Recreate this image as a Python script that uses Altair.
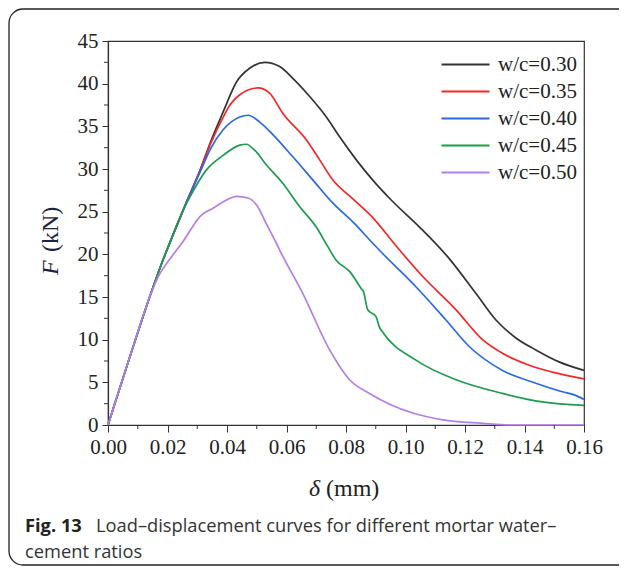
import altair as alt
import pandas as pd

series_names = ["w/c=0.30", "w/c=0.35", "w/c=0.40", "w/c=0.45", "w/c=0.50"]
series_colors = ["#333333", "#f02828", "#2a6ae0", "#1f9a4e", "#b47ee6"]

x_ticks = [0.0, 0.02, 0.04, 0.06, 0.08, 0.10, 0.12, 0.14, 0.16]
x_minor = [0.01, 0.03, 0.05, 0.07, 0.09, 0.11, 0.13, 0.15]
y_ticks = [0, 5, 10, 15, 20, 25, 30, 35, 40, 45]
y_minor = [2.5, 7.5, 12.5, 17.5, 22.5, 27.5, 32.5, 37.5, 42.5]

d30 = [0.0, 0.008, 0.014, 0.018, 0.022, 0.026, 0.031, 0.0345, 0.0386, 0.0432, 0.0476, 0.0527,
       0.0577, 0.0622, 0.0678, 0.0734, 0.0778, 0.0834, 0.089, 0.0951, 0.1047, 0.1147, 0.1237,
       0.1304, 0.1371, 0.1438, 0.1516, 0.16]
f30 = [0.0, 8.7, 15.0, 18.9, 22.4, 25.8, 29.9, 33.2, 36.6, 40.2, 41.8, 42.5,
       42.0, 40.6, 38.5, 36.1, 33.8, 31.1, 28.7, 26.4, 23.2, 19.5, 15.4,
       12.3, 10.2, 8.8, 7.4, 6.4]

d35 = [0.0, 0.008, 0.014, 0.018, 0.022, 0.026, 0.031, 0.0345, 0.0386, 0.041, 0.0443, 0.0504,
       0.0543, 0.0588, 0.0667, 0.0711, 0.0756, 0.0823, 0.089, 0.0968, 0.1058, 0.117, 0.1259,
       0.1326, 0.1416, 0.1505, 0.16]
f35 = [0.0, 8.7, 15.0, 18.9, 22.4, 25.8, 29.9, 33.0, 36.0, 37.5, 38.7, 39.5,
       38.9, 36.5, 33.4, 31.1, 28.7, 26.5, 24.3, 21.0, 17.4, 13.5, 10.0,
       8.4, 7.0, 6.1, 5.4]

d40 = [0.0, 0.008, 0.014, 0.018, 0.022, 0.026, 0.0309, 0.0345, 0.0387, 0.0443, 0.0471, 0.051,
       0.0555, 0.0622, 0.0689, 0.0756, 0.0823, 0.089, 0.0923, 0.1035, 0.1136, 0.1214, 0.1326,
       0.1438, 0.1527, 0.157, 0.16]
f40 = [0.0, 8.7, 15.0, 18.9, 22.4, 25.8, 29.6, 32.4, 34.6, 36.1, 36.3, 35.5,
       34.0, 31.4, 28.7, 26.0, 23.8, 21.3, 20.1, 16.2, 12.3, 9.2, 6.4,
       4.9, 3.9, 3.5, 3.0]

d45 = [0.0, 0.008, 0.014, 0.018, 0.0215, 0.0245, 0.0275, 0.0331, 0.0387, 0.0443, 0.0465, 0.0493,
       0.0532, 0.0588, 0.0644, 0.07, 0.0739, 0.0767, 0.0812, 0.0851, 0.0859, 0.0873, 0.0901,
       0.0912, 0.0923, 0.1035, 0.117, 0.1326, 0.146, 0.16]
f45 = [0.0, 8.7, 15.0, 18.9, 22.0, 24.6, 26.7, 29.9, 31.6, 32.8, 32.9, 32.2,
       30.5, 28.3, 25.6, 23.2, 20.9, 19.3, 18.0, 16.0, 15.6, 13.5, 12.7,
       11.5, 10.9, 7.6, 5.3, 3.7, 2.7, 2.3]

d50 = [0.0, 0.008, 0.014, 0.0172, 0.0205, 0.025, 0.0314, 0.0353, 0.04, 0.0432, 0.0471, 0.0499,
       0.0532, 0.0566, 0.0577, 0.0655, 0.0745, 0.0812, 0.0879, 0.1024, 0.1125, 0.1259, 0.135, 0.16]
f50 = [0.0, 8.7, 15.0, 17.6, 19.3, 21.4, 24.6, 25.4, 26.4, 26.8, 26.6, 25.8,
       23.6, 21.3, 20.5, 15.4, 8.8, 5.3, 3.7, 1.4, 0.6, 0.2, 0.0, 0.0]

all_d = [d30, d35, d40, d45, d50]
all_f = [f30, f35, f40, f45, f50]

rows = []
for name, ds, fs in zip(series_names, all_d, all_f):
    for i, (d, f) in enumerate(zip(ds, fs)):
        rows.append({"series": name, "delta": d, "F": f, "idx": i})
df = pd.DataFrame(rows)

SERIF = "Liberation Serif"
SANS = "Open Sans"
W, H = 476, 384

xscale = alt.Scale(domain=[0, 0.16], nice=False, zero=False)
yscale = alt.Scale(domain=[0, 45], nice=False)

lines = alt.Chart(df).mark_line(strokeWidth=1.7, interpolate="monotone").encode(
    x=alt.X("delta:Q", scale=xscale,
            axis=alt.Axis(values=x_ticks, format=".2f", title=None, tickSize=7,
                          labelPadding=4, labelFlush=False)),
    y=alt.Y("F:Q", scale=yscale,
            axis=alt.Axis(values=y_ticks, format="d", title=None, tickSize=6,
                          labelPadding=4)),
    color=alt.Color("series:N",
                    scale=alt.Scale(domain=series_names, range=series_colors),
                    legend=alt.Legend(orient="none", legendX=347, legendY=13, title=None,
                                      symbolType="M-4,0H4", symbolSize=144,
                                      symbolStrokeWidth=2, labelFont=SERIF,
                                      labelFontSize=21, labelColor="#222",
                                      labelOffset=22, rowPadding=5, padding=0)),
    order=alt.Order("idx:Q"),
)

xminor = alt.Chart(pd.DataFrame({"v": x_minor})).mark_rule(color="#333", strokeWidth=1).encode(
    x=alt.X("v:Q", scale=xscale, title=None),
    y=alt.value(H), y2=alt.value(H + 4),
)
yminor = alt.Chart(pd.DataFrame({"v": y_minor})).mark_rule(color="#333", strokeWidth=1).encode(
    y=alt.Y("v:Q", scale=yscale, title=None),
    x=alt.value(0), x2=alt.value(-4),
)

one = pd.DataFrame({"a": [0]})
border = alt.Chart(one).mark_rect(fillOpacity=0, stroke="#222", strokeWidth=1.3,
                                  cornerRadius=14).encode(
    x=alt.value(-99), x2=alt.value(540), y=alt.value(-32), y2=alt.value(524))

def txt(s, x, y, font, size, style="normal", weight="normal", angle=0, color="#222"):
    return alt.Chart(one).mark_text(text=s, font=font, fontSize=size, fontStyle=style,
                                    fontWeight=weight, angle=angle, align="left",
                                    baseline="alphabetic", color=color).encode(
        x=alt.value(x), y=alt.value(y))

xt1 = txt("δ", 201, 455, SERIF, 24, style="italic")
xt2 = txt("(mm)", 218, 455, SERIF, 24)
yt1 = txt("F", -50, 234, SERIF, 24, style="italic", angle=270, color="#1c2340")
yt2 = txt("(kN)", -50, 211, SERIF, 24, angle=270, color="#1c2340")
cap1 = txt("Fig. 13", -83, 491, SANS, 18.3, weight="bold", color="#222")
cap2 = txt("Load–displacement curves for different mortar water–", -12, 491, SANS, 18.3, color="#333")
cap3 = txt("cement ratios", -83, 517, SANS, 18.3, color="#333")

chart = alt.layer(border, lines, xminor, yminor, xt1, xt2, yt1, yt2, cap1, cap2, cap3).properties(
    width=W, height=H,
    padding={"left": 100, "top": 33, "right": 35, "bottom": 141},
    autosize="none",
).configure_view(stroke="#333", strokeWidth=1.2).configure_axis(
    grid=False, domainColor="#333", tickColor="#333", labelFont=SERIF,
    labelFontSize=21, labelColor="#222", domainWidth=1.2,
)

chart.save("out.html", embed_options={"renderer": "svg", "actions": False})
